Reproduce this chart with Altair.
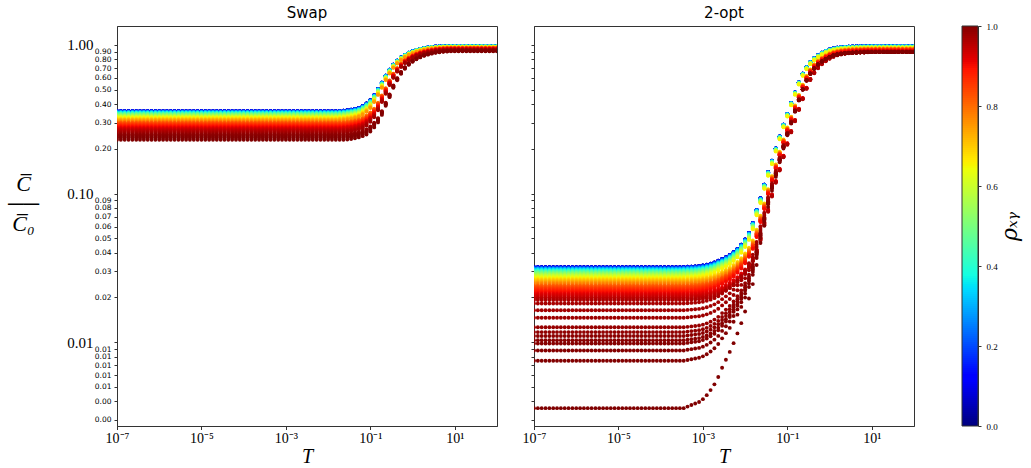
import math
import pandas as pd
import altair as alt

# ---- T grid (log10 exponents), 100 points from 1e-7 to 1e2 ----
T_EXP = [
    -7.000, -6.909, -6.818, -6.727, -6.636, -6.545, -6.455, -6.364, -6.273, -6.182, -6.091,
    -6.000, -5.909, -5.818, -5.727, -5.636, -5.545, -5.455, -5.364, -5.273, -5.182, -5.091,
    -5.000, -4.909, -4.818, -4.727, -4.636, -4.545, -4.455, -4.364, -4.273, -4.182, -4.091,
    -4.000, -3.909, -3.818, -3.727, -3.636, -3.545, -3.455, -3.364, -3.273, -3.182, -3.091,
    -3.000, -2.909, -2.818, -2.727, -2.636, -2.545, -2.455, -2.364, -2.273, -2.182, -2.091,
    -2.000, -1.909, -1.818, -1.727, -1.636, -1.545, -1.455, -1.364, -1.273, -1.182, -1.091,
    -1.000, -0.909, -0.818, -0.727, -0.636, -0.545, -0.455, -0.364, -0.273, -0.182, -0.091,
    0.000, 0.091, 0.182, 0.273, 0.364, 0.455, 0.545, 0.636, 0.727, 0.818, 0.909,
    1.000, 1.091, 1.182, 1.273, 1.364, 1.455, 1.545, 1.636, 1.727, 1.818, 1.909,
    2.000,
]

# ---- correlation values and their relative position inside the plateau band ----
RHO = [0.000, 0.025, 0.050, 0.075, 0.100, 0.125, 0.150, 0.175, 0.200, 0.225, 0.250,
       0.275, 0.300, 0.325, 0.350, 0.375, 0.400, 0.425, 0.450, 0.475, 0.500, 0.525,
       0.550, 0.575, 0.600, 0.625, 0.650, 0.675, 0.700, 0.725, 0.750, 0.775, 0.800,
       0.81, 0.82, 0.83, 0.84, 0.85, 0.86, 0.87, 0.88, 0.89, 0.90, 0.91, 0.92, 0.93,
       0.94, 0.95, 0.96, 0.97, 0.98, 0.985, 0.99, 0.995, 0.998, 1.000]
BAND_POS = [0.000, 0.0003, 0.001, 0.003, 0.005, 0.008, 0.011, 0.015, 0.020, 0.026, 0.032,
            0.039, 0.046, 0.054, 0.063, 0.073, 0.084, 0.095, 0.107, 0.120, 0.134, 0.149,
            0.165, 0.182, 0.200, 0.219, 0.240, 0.262, 0.286, 0.311, 0.339, 0.368, 0.400,
            0.414, 0.428, 0.442, 0.457, 0.473, 0.490, 0.507, 0.525, 0.544, 0.564, 0.585,
            0.608, 0.632, 0.659, 0.688, 0.720, 0.757, 0.801, 0.827, 0.859, 0.900, 0.937,
            1.000]

# Swap panel levels (low-T plateau and high-T plateau, top and bottom of the band)
SWAP_LOW_TOP, SWAP_LOW_BOT = 0.359, 0.230
SWAP_HIGH_TOP, SWAP_HIGH_BOT = 0.985, 0.908

# 2-opt panel: main band holds rho <= 0.96; band position of rho=0.96 is its bottom
TWO_RHO_MAX = 0.96
TWO_LOW_TOP, TWO_LOW_BOT = 0.0320, 0.0192
TWO_HIGH_TOP, TWO_HIGH_BOT = 0.985, 0.897
# 2-opt panel: separated curves at very high correlation
RHO_2OPT_LOW = [0.965, 0.97, 0.975, 0.98, 0.985, 0.99, 0.992, 0.994, 0.996, 0.998, 1.00]
L_2OPT_LOW = [0.0182, 0.0164, 0.0146, 0.0126, 0.0117, 0.0110, 0.0103, 0.0098, 0.0088,
              0.0075, 0.0036]

# ---- normalised transition profiles (fraction of the rise at each grid step) ----
Q_SWAP = [0.0] * 58 + [
    0.002, 0.004, 0.008, 0.013, 0.020, 0.029, 0.047, 0.072, 0.105, 0.160, 0.235, 0.318,
    0.420, 0.515, 0.605, 0.680, 0.745, 0.797, 0.842, 0.877, 0.907, 0.930, 0.950, 0.966,
    0.978, 0.987, 0.993, 0.997, 0.999] + [1.0] * 13
Q_2OPT = [0.0] * 39 + [
    0.0001, 0.0002, 0.0003, 0.0004, 0.0006, 0.0009, 0.0013, 0.0018, 0.0025, 0.0035, 0.0045,
    0.0056, 0.0070, 0.0088, 0.0110, 0.0140, 0.0180, 0.0235, 0.033, 0.048, 0.064, 0.087,
    0.113, 0.141, 0.178, 0.221, 0.272, 0.327, 0.394, 0.470, 0.555, 0.640, 0.712, 0.772,
    0.822, 0.862, 0.897, 0.925, 0.947, 0.962, 0.973, 0.981, 0.986, 0.990, 0.993, 0.995,
    0.997, 0.998, 0.999] + [1.0] * 12

# jet colormap stops
JET_POS = [0.0, 0.11, 0.125, 0.34, 0.35, 0.375, 0.64, 0.65, 0.66, 0.89, 0.91, 1.0]
JET_COL = ["#000080", "#0000ff", "#0000ff", "#00dbff", "#00e5f7", "#14ffe2", "#eeff08",
           "#f7f500", "#ffec00", "#ff1300", "#e80000", "#800000"]

Y_TICKS = [1.0, 0.9, 0.8, 0.7, 0.6, 0.5, 0.4, 0.3, 0.2,
           0.1, 0.09, 0.08, 0.07, 0.06, 0.05, 0.04, 0.03, 0.02,
           0.01, 0.009, 0.008, 0.007, 0.006, 0.005, 0.004, 0.003]
X_TICKS = [1e-7, 1e-5, 1e-3, 1e-1, 1e1]
CB_TICKS = [0.0, 0.2, 0.4, 0.6, 0.8, 1.0]


def lerp_log(a, b, p):
    return 10 ** (math.log10(a) + (math.log10(b) - math.log10(a)) * p)


def shift_for(p):
    return 0 if p < 0.35 else (1 if p < 0.8 else 2)


def build(curves, Q):
    rows = []
    for ci, (r, L, H, s) in enumerate(curves):
        for k, e in enumerate(T_EXP):
            q = Q[k - s] if k - s >= 0 else 0.0
            rows.append({"T": 10 ** e, "C": L + (H - L) * q, "rho": r, "o": ci * 1000 + k})
    return pd.DataFrame(rows)


swap_curves = [(r, lerp_log(SWAP_LOW_TOP, SWAP_LOW_BOT, p), lerp_log(SWAP_HIGH_TOP, SWAP_HIGH_BOT, p),
                shift_for(p)) for r, p in zip(RHO, BAND_POS)]

pos_max = BAND_POS[RHO.index(TWO_RHO_MAX)]
two_curves = []
for r, p in zip(RHO, BAND_POS):
    if r <= TWO_RHO_MAX:
        pp = p / pos_max
        two_curves.append((r, lerp_log(TWO_LOW_TOP, TWO_LOW_BOT, pp),
                           lerp_log(TWO_HIGH_TOP, TWO_HIGH_BOT, pp), shift_for(pp)))
two_curves += [(r, L, TWO_HIGH_BOT, 1) for r, L in zip(RHO_2OPT_LOW, L_2OPT_LOW)]
two_curves.sort(key=lambda c: c[0])

df_swap = build(swap_curves, Q_SWAP)
df_two = build(two_curves, Q_2OPT)

YMIN, YMAX = 0.00273, 1.342
jet = alt.Scale(domain=JET_POS, range=JET_COL, interpolate="rgb")

major_test = "datum.value == 1 || datum.value == 0.1 || datum.value == 0.01"

x_axis = alt.Axis(values=X_TICKS, grid=False, tickSize=3.5, labelPadding=2,
                  labelExpr="datum.value < 1e-6 ? '10⁻⁷' : datum.value < 1e-4 ? '10⁻⁵' : "
                            "datum.value < 1e-2 ? '10⁻³' : datum.value < 1 ? '10⁻¹' : '10¹'",
                  labelFont="Liberation Serif", labelFontSize=14, labelFlush=False,
                  labelOverlap=False, title="T", titleFont="Liberation Serif",
                  titleFontStyle="italic", titleFontWeight="normal", titleFontSize=20,
                  titlePadding=1)

y_axis_left = alt.Axis(
    values=Y_TICKS, grid=False, tickSize=3, labelOverlap=False,
    labelPadding={"condition": {"test": major_test, "value": 21}, "value": 3},
    format=".2f",
    labelFont={"condition": {"test": major_test, "value": "Liberation Serif"}, "value": "DejaVu Sans"},
    labelFontSize={"condition": {"test": major_test, "value": 15}, "value": 7.5},
    title=["C\u0305", "\u2500\u2500", "C\u0305\u2080"], titleAngle=0, titleFont="Liberation Serif",
    titleFontStyle="italic", titleFontWeight="normal", titleFontSize=22, titleLineHeight=20,
    titleAlign="center", titleBaseline="middle", titleX=-94, titleY=157)

y_axis_right = alt.Axis(values=Y_TICKS, grid=False, tickSize=3, labels=False, title=None)


def panel(df, title, yaxis):
    return alt.Chart(df).mark_circle(size=15, opacity=1, clip=True).encode(
        x=alt.X("T:Q", scale=alt.Scale(type="log", domain=[1e-7, 1e2], nice=False), axis=x_axis),
        y=alt.Y("C:Q", scale=alt.Scale(type="log", domain=[YMIN, YMAX], nice=False), axis=yaxis),
        color=alt.Color("rho:Q", scale=jet, legend=None),
        order=alt.Order("o:Q"),
    ).properties(width=380, height=400,
                 title=alt.TitleParams(title, font="DejaVu Sans", fontSize=15, fontWeight="normal",
                                       offset=5, anchor="middle", color="black"))


left = panel(df_swap, "Swap", y_axis_left)
right = panel(df_two, "2-opt", y_axis_right)

# colorbar: a ramp of rects, right-aligned in its cell
CB_X0, CB_X1 = 11, 27
N_CB = 200
cb_df = pd.DataFrame({"v": [i / N_CB for i in range(N_CB)],
                      "v2": [min(1.0, (i + 1.3) / N_CB) for i in range(N_CB)]})
cb_ramp = alt.Chart(cb_df).mark_rect(strokeWidth=0).encode(
    y=alt.Y("v:Q", scale=alt.Scale(domain=[0, 1], nice=False),
            axis=alt.Axis(orient="right", values=CB_TICKS, format=".1f", grid=False, tickSize=3,
                          labelFont="Liberation Serif", labelFontSize=9, labelPadding=5,
                          title="ρₓᵧ", titleFont="DejaVu Serif", titleFontStyle="italic",
                          titleFontWeight="normal", titleFontSize=22, titleAngle=270,
                          titlePadding=24)),
    y2="v2:Q",
    x=alt.value(CB_X0), x2=alt.value(CB_X1),
    color=alt.Color("v:Q", scale=jet, legend=None),
)
cb_frame = alt.Chart(pd.DataFrame({"a": [0]})).mark_rect(fill=None, stroke="#333", strokeWidth=1).encode(
    x=alt.value(CB_X0), x2=alt.value(CB_X1), y=alt.value(0), y2=alt.value(400))
colorbar = alt.layer(cb_ramp, cb_frame).properties(width=CB_X1, height=400,
                                                   view=alt.ViewConfig(stroke=None))

chart = alt.hconcat(left, right, colorbar, spacing=37, bounds="flush").properties(
    autosize=alt.AutoSizeParams(type="pad"),
    padding={"left": 6, "top": 5, "right": 5, "bottom": 2},
    background="white",
).configure_view(stroke="#333", strokeWidth=1).configure_axis(
    domainColor="#333", tickColor="#333", labelColor="black", titleColor="black")

chart.save("out.html", embed_options={"renderer": "svg", "actions": False})
